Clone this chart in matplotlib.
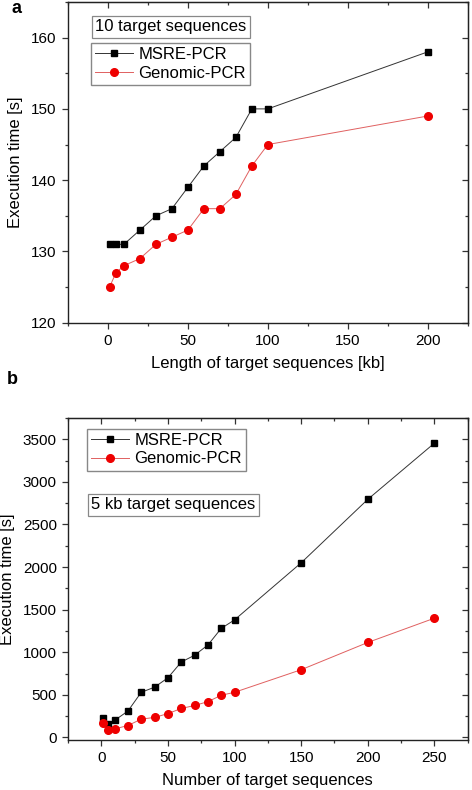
import matplotlib.pyplot as plt
from matplotlib.ticker import MultipleLocator, NullFormatter

plt.rcParams['font.family'] = ['Liberation Sans', 'DejaVu Sans']

# Painel a: 10 sequências alvo, comprimento variável
comprimento_kb = [1, 5, 10, 20, 30, 40, 50, 60, 70, 80, 90, 100, 200]
msre_a = [131, 131, 131, 133, 135, 136, 139, 142, 144, 146, 150, 150, 158]
genomic_a = [125, 127, 128, 129, 131, 132, 133, 136, 136, 138, 142, 145, 149]

# Painel b: sequências de 5 kb, número variável
num_seq = [1, 5, 10, 20, 30, 40, 50, 60, 70, 80, 90, 100, 150, 200, 250]
msre_b = [230, 160, 200, 310, 530, 590, 700, 885, 965, 1085, 1280, 1380, 2050, 2795, 3455]
genomic_b = [165, 85, 100, 140, 215, 235, 280, 340, 375, 420, 495, 530, 795, 1115, 1400]

fig = plt.figure(figsize=(4.72, 7.90), dpi=100)
ax_a = fig.add_axes([0.144, 0.5915, 0.847, 0.406])
ax_b = fig.add_axes([0.144, 0.0633, 0.847, 0.4076])


def estilo_eixo(ax, xmaj, xmin, ymaj, ymin):
    ax.xaxis.set_major_locator(MultipleLocator(xmaj))
    ax.xaxis.set_minor_locator(MultipleLocator(xmin))
    ax.yaxis.set_major_locator(MultipleLocator(ymaj))
    ax.yaxis.set_minor_locator(MultipleLocator(ymin))
    ax.tick_params(which='major', direction='out', length=4.5, width=0.9, labelsize=11, color='#333333')
    ax.tick_params(which='minor', direction='out', length=2.5, width=0.9, color='#333333')
    for s in ax.spines.values():
        s.set_linewidth(1.0)
        s.set_color('#222222')
    # ticks internos no topo e à direita (estilo Origin)
    top = ax.secondary_xaxis('top')
    top.xaxis.set_major_locator(MultipleLocator(xmaj))
    top.xaxis.set_minor_locator(MultipleLocator(xmin))
    top.xaxis.set_major_formatter(NullFormatter())
    top.tick_params(which='major', direction='in', length=4.5, width=0.9, color='#333333')
    top.tick_params(which='minor', direction='in', length=2.5, width=0.9, color='#333333')
    right = ax.secondary_yaxis('right')
    right.yaxis.set_major_locator(MultipleLocator(ymaj))
    right.yaxis.set_minor_locator(MultipleLocator(ymin))
    right.yaxis.set_major_formatter(NullFormatter())
    right.tick_params(which='major', direction='in', length=4.5, width=0.9, color='#333333')
    right.tick_params(which='minor', direction='in', length=2.5, width=0.9, color='#333333')


leg_kw = dict(loc='upper left', fontsize=12, frameon=True, fancybox=False,
              edgecolor='#888888', framealpha=1, borderaxespad=0, borderpad=0.25,
              handlelength=2.3, handletextpad=0.3, labelspacing=0.2)
box_kw = dict(boxstyle='square,pad=0.2', fc='white', ec='#888888', lw=0.9)

# Painel a
ax_a.plot(comprimento_kb, msre_a, color='#333333', lw=0.7, marker='s', ms=4.5,
          mfc='black', mec='black', label='MSRE-PCR')
ax_a.plot(comprimento_kb, genomic_a, color='#e06060', lw=0.7, marker='o', ms=5.5,
          mfc='#ee0000', mec='#ee0000', label='Genomic-PCR')
ax_a.set_xlim(-25, 225)
ax_a.set_ylim(120, 165)
estilo_eixo(ax_a, 50, 25, 10, 5)
ax_a.set_xlabel('Length of target sequences [kb]', fontsize=12, labelpad=6)
ax_a.set_ylabel('Execution time [s]', fontsize=12, labelpad=6)
ax_a.legend(bbox_to_anchor=(0.0575, 0.872), **leg_kw)
ax_a.text(0.0675, 0.922, '10 target sequences', transform=ax_a.transAxes,
          fontsize=12, va='center', ha='left', bbox=box_kw)

# Painel b
ax_b.plot(num_seq, msre_b, color='#333333', lw=0.7, marker='s', ms=4.5,
          mfc='black', mec='black', label='MSRE-PCR')
ax_b.plot(num_seq, genomic_b, color='#e06060', lw=0.7, marker='o', ms=5.5,
          mfc='#ee0000', mec='#ee0000', label='Genomic-PCR')
ax_b.set_xlim(-25, 275)
ax_b.set_ylim(-30, 3750)
estilo_eixo(ax_b, 50, 25, 500, 250)
ax_b.set_xlabel('Number of target sequences', fontsize=12, labelpad=6)
ax_b.set_ylabel('Execution time [s]', fontsize=12, labelpad=6)
ax_b.legend(bbox_to_anchor=(0.0475, 0.966), **leg_kw)
ax_b.text(0.0575, 0.730, '5 kb target sequences', transform=ax_b.transAxes,
          fontsize=12, va='center', ha='left', bbox=box_kw)

# Letras dos painéis
fig.text(0.036, 0.989, 'a', fontsize=13, fontweight='bold', ha='center', va='center')
fig.text(0.026, 0.519, 'b', fontsize=13, fontweight='bold', ha='center', va='center')

plt.savefig('out.png', dpi=100)
